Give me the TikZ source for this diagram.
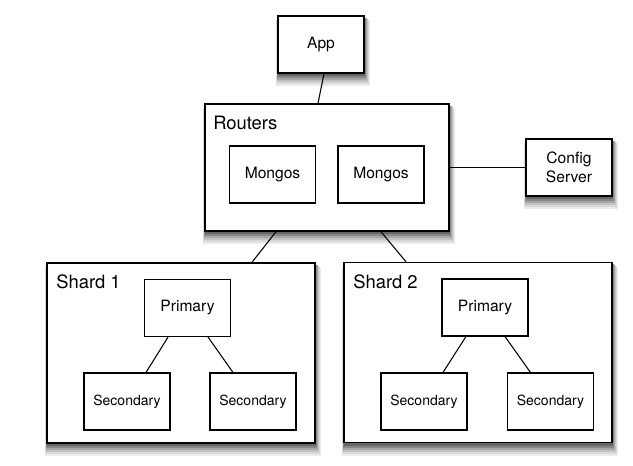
\documentclass[tikz,border=0pt]{standalone}
\usepackage{fontspec}
\setmainfont{TeX Gyre Heros}

\begin{document}
\begin{tikzpicture}[x=0.75pt, y=-0.75pt,
    outer/.style={draw, line width=1.1pt, fill=white, inner sep=0pt},
    inner/.style={draw, line width=0.8pt, fill=white, inner sep=0pt,
      minimum width=64.5pt, minimum height=42.75pt, align=center,
      font=\fontsize{11.7}{14}\selectfont},
    small/.style={inner, font=\fontsize{10.5}{12}\selectfont},
    title/.style={anchor=west, inner sep=0pt, font=\fontsize{13.8}{16}\selectfont},
    link/.style={line width=0.8pt}]

    \useasboundingbox (0,0) rectangle (633,465);

    % 影
    \foreach \cx/\cy/\hw/\hh in {321/44.5/43/28.5, 327/167.5/122/63.5, 569/167.5/43/28.5,
        181/353/134/90, 478/352.5/134/90}
      \foreach \shl/\shd/\shr/\sht/\shg in {2/13/6/5/8, 1.6/11/5/4/15,
          1.2/9/4/3.2/24, 0.9/7/3/2.4/35, 0.6/5/2.2/1.7/47, 0.3/3/1.4/1/60}
        \fill [black!\shg] (\cx-\hw-\shl, \cy+\hh+\shd) rectangle (\cx+\hw+\shr, \cy-\hh+\sht);

    % App
    \node [outer, inner, line width=1.1pt] (app) at (321,44.5) {App};

    % Routers
    \node [outer, minimum width=183pt, minimum height=95.25pt] (routers) at (327,167.5) {};
    \node [title] (routerslabel) at (213,123) {Routers};
    \node [inner] (mongosa) at (272.5,174.5) {Mongos};
    \node [inner] (mongosb) at (381,174.5) {Mongos};

    % Config Server
    \node [outer, inner, line width=1.1pt] (config) at (569,167.5) {Config\\Server};

    % Shard 1
    \node [outer, minimum width=201pt, minimum height=135pt] (sharda) at (181,353) {};
    \node [title] (shardalabel) at (56,282) {Shard 1};
    \node [inner] (primarya) at (187.5,308) {Primary};
    \node [small] (secondaryaa) at (127,401.5) {Secondary};
    \node [small] (secondaryab) at (253,401.5) {Secondary};

    % Shard 2
    \node [outer, minimum width=201pt, minimum height=135pt] (shardb) at (478,352.5) {};
    \node [title] (shardblabel) at (353,282) {Shard 2};
    \node [inner] (primaryb) at (485,307.5) {Primary};
    \node [small] (secondaryba) at (424,401.5) {Secondary};
    \node [small] (secondarybb) at (550.5,401.5) {Secondary};

    % 接続
    \draw [link] ([xshift=2.25pt]app.south) -- ([xshift=-2.25pt]app.south |- routers.north);
    \draw [link] (routers.east) -- (config.west);
    \draw [link] ([xshift=-38.25pt]routers.south) -- ([xshift=53.25pt]sharda.north);
    \draw [link] ([xshift=40.5pt]routers.south) -- ([xshift=-54pt]shardb.north);
    \draw [link] ([xshift=-14.6pt]primarya.south) -- ([xshift=14.25pt]secondaryaa.north);
    \draw [link] ([xshift=15.4pt]primarya.south) -- ([xshift=-15pt]secondaryab.north);
    \draw [link] ([xshift=-14.25pt]primaryb.south) -- ([xshift=14.25pt]secondaryba.north);
    \draw [link] ([xshift=15pt]primaryb.south) -- ([xshift=-15pt]secondarybb.north);

\end{tikzpicture}
\end{document}
